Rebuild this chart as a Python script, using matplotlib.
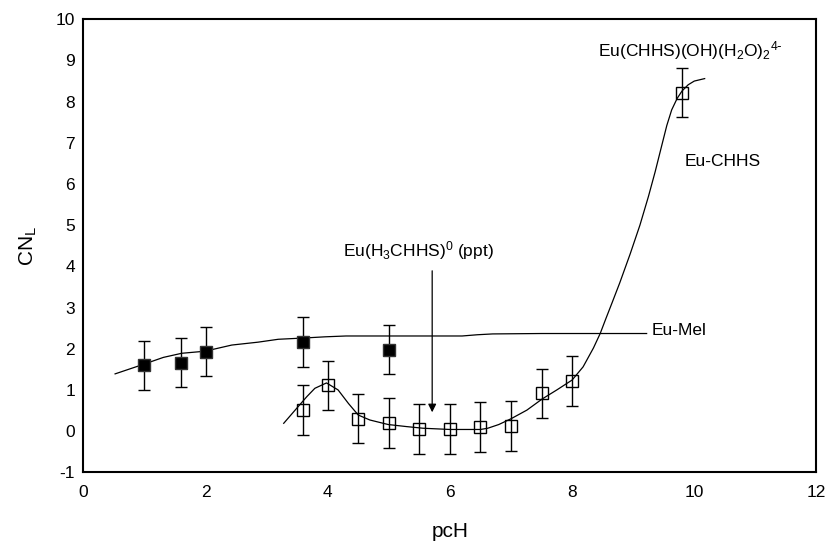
import matplotlib
matplotlib.use('Agg')
import matplotlib.pyplot as plt

plt.rcParams['font.family'] = ['Liberation Sans', 'DejaVu Sans']
plt.rcParams['mathtext.default'] = 'regular'
plt.rcParams['axes.unicode_minus'] = False

# Eu-Mel measured points (filled squares)
MEL_X = [1.0, 1.6, 2.0, 3.6, 5.0]
MEL_Y = [1.60, 1.66, 1.93, 2.16, 1.98]
MEL_ERR = [0.6, 0.6, 0.6, 0.6, 0.6]

# Eu-CHHS measured points (open squares)
CHHS_X = [3.6, 4.0, 4.5, 5.0, 5.5, 6.0, 6.5, 7.0, 7.5, 8.0, 9.8]
CHHS_Y = [0.51, 1.11, 0.30, 0.20, 0.05, 0.05, 0.10, 0.12, 0.92, 1.22, 8.22]
CHHS_ERR = [0.6, 0.6, 0.6, 0.6, 0.6, 0.6, 0.6, 0.6, 0.6, 0.6, 0.6]

# model curves
MEL_FIT_X = [0.52, 0.98, 1.31, 1.61, 1.99, 2.43, 2.86, 3.19, 3.6, 3.96, 4.3,
             5.0, 6.2, 6.45, 6.7, 7.5, 9.22]
MEL_FIT_Y = [1.39, 1.62, 1.79, 1.89, 1.94, 2.09, 2.16, 2.23, 2.26, 2.29, 2.31,
             2.31, 2.31, 2.34, 2.36, 2.37, 2.37]

CHHS_FIT_X = [3.28, 3.49, 3.66, 3.79, 3.98, 4.17, 4.34, 4.50, 4.69, 4.99, 5.29, 5.56,
              6.0, 6.5, 6.62, 6.8, 7.0, 7.26, 7.51, 7.75, 8.0, 8.18, 8.35, 8.46,
              8.55, 8.65, 8.78, 8.95, 9.11, 9.25, 9.36, 9.47, 9.55, 9.63, 9.72,
              9.80, 9.90, 10.0, 10.17]
CHHS_FIT_Y = [0.19, 0.55, 0.84, 1.04, 1.17, 1.00, 0.67, 0.39, 0.27, 0.16, 0.11, 0.07,
              0.04, 0.04, 0.07, 0.16, 0.30, 0.51, 0.78, 1.00, 1.24, 1.56, 2.02, 2.37,
              2.72, 3.10, 3.60, 4.30, 5.00, 5.70, 6.30, 6.95, 7.42, 7.80, 8.08,
              8.26, 8.41, 8.50, 8.56]

fig = plt.figure(figsize=(8.3, 5.42), dpi=100)
ax = fig.add_axes([0.1004, 0.1286, 0.8833, 0.8358])

ax.plot(MEL_FIT_X, MEL_FIT_Y, color='black', lw=0.9)
ax.plot(CHHS_FIT_X, CHHS_FIT_Y, color='black', lw=0.9)

ax.errorbar(MEL_X, MEL_Y, yerr=MEL_ERR, fmt='s', color='black', mfc='black',
            mec='#333333', ms=8.5, mew=1.0, ecolor='black', elinewidth=1.0,
            capsize=4.5, capthick=1.0)
ax.errorbar(CHHS_X, CHHS_Y, yerr=CHHS_ERR, fmt='s', color='black', mfc='none',
            mec='black', ms=8, mew=1.0, ecolor='black', elinewidth=1.0,
            capsize=4.5, capthick=1.0)

# annotations
ax.text(9.93, 9.25, r'Eu(CHHS)(OH)(H$_2$O)$_2$$^{4\text{-}}$', fontsize=12.5,
        ha='center', va='center')
ax.text(10.46, 6.55, 'Eu-CHHS', fontsize=12.5, ha='center', va='center')
ax.text(9.30, 2.45, 'Eu-Mel', fontsize=12.5, ha='left', va='center')
ax.text(5.48, 4.39, 'Eu(H$_3$CHHS)$^0$ (ppt)', fontsize=12.5,
        ha='center', va='center')
ax.annotate('', xy=(5.71, 0.39), xytext=(5.71, 3.96),
            arrowprops=dict(arrowstyle='-|>', color='black', lw=0.9,
                            mutation_scale=12))

ax.set_xlim(0, 12)
ax.set_ylim(-1, 10)
ax.set_xticks(range(0, 13, 2))
ax.set_yticks(range(-1, 11))
ax.tick_params(axis='both', length=0, labelsize=12.5)
ax.tick_params(axis='x', pad=9)
ax.tick_params(axis='y', pad=6)
for s in ax.spines.values():
    s.set_linewidth(1.5)

ax.set_xlabel('pcH', fontsize=15, labelpad=16)
ax.set_ylabel('CN$_L$', fontsize=15, labelpad=12)

fig.savefig('out.png', dpi=100)
